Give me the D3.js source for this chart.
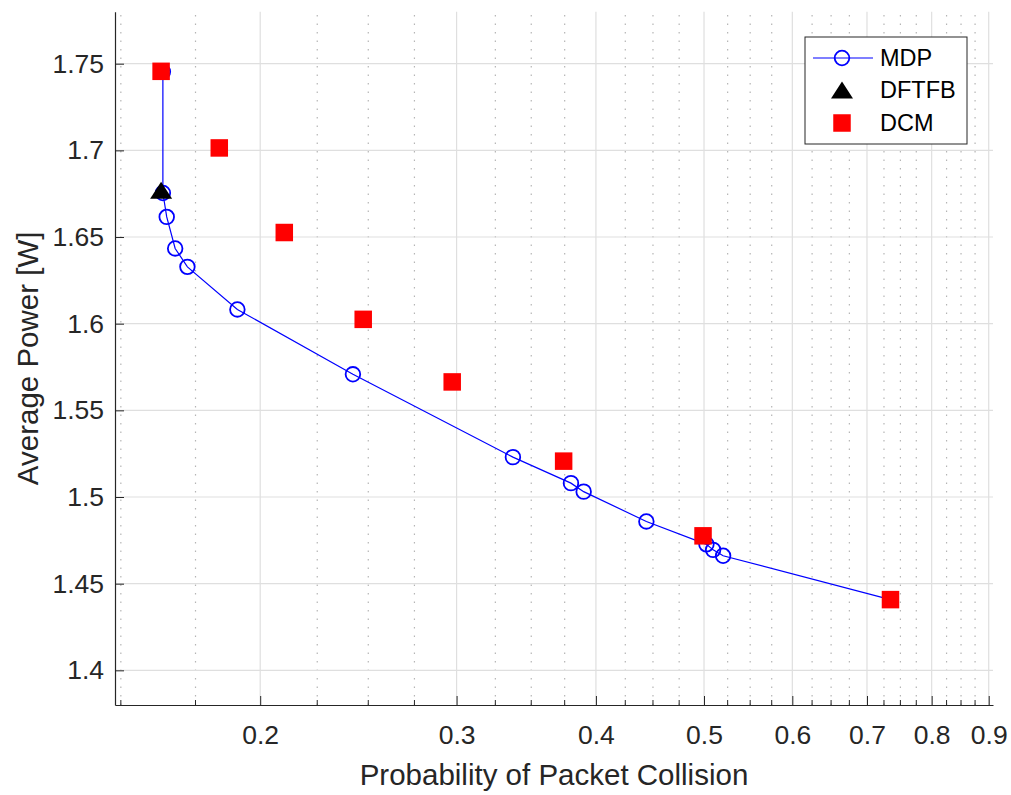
<!DOCTYPE html>
<html>
<head>
<meta charset="utf-8">
<script src="https://cdn.jsdelivr.net/npm/d3@7"></script>
<style>
  html, body { margin: 0; padding: 0; background: #fff; }
  svg { display: block; font-family: "Liberation Sans", Arial, Helvetica, sans-serif; }
</style>
</head>
<body>
<script>
// 数据
const mdpX = [0.1636, 0.1636, 0.1649, 0.1678, 0.1721, 0.1908, 0.2422, 0.3370, 0.3799, 0.3900, 0.4439, 0.5025, 0.5095, 0.5201, 0.7348];
const mdpY = [1.7453, 1.6754, 1.6616, 1.6434, 1.6328, 1.6082, 1.5708, 1.5230, 1.5080, 1.5031, 1.4859, 1.4727, 1.4695, 1.4661, 1.4408];
const dftfbX = [0.1630];
const dftfbY = [1.6770];
const dcmX = [0.1630, 0.1838, 0.2102, 0.2474, 0.2973, 0.3742, 0.4990, 0.7348];
const dcmY = [1.7456, 1.7014, 1.6526, 1.6025, 1.5664, 1.5207, 1.4776, 1.4408];

const xTicks = [0.2, 0.3, 0.4, 0.5, 0.6, 0.7, 0.8, 0.9];
const yTicks = [1.4, 1.45, 1.5, 1.55, 1.6, 1.65, 1.7, 1.75];
const legendNames = ['MDP', 'DFTFB', 'DCM'];

const width = 1011, height = 795;
const axisColor = '#262626';

// 画布
const svg = d3.select('body').append('svg')
    .attr('width', width)
    .attr('height', height);

// 比例尺
const x = d3.scaleLog().domain([0.1482, 0.908]).range([115, 993]);
const y = d3.scaleLinear().domain([1.38, 1.78]).range([705, 11.7]);

// 次刻度 (每 0.025)
const xMinor = d3.range(6, 37).map(i => i * 0.025)
    .filter(v => !xTicks.some(t => Math.abs(t - v) < 1e-6));

// 网格
const grid = svg.append('g');
grid.selectAll('.minor')
    .data(xMinor)
    .enter().append('line')
    .attr('x1', d => x(d)).attr('x2', d => x(d))
    .attr('y1', y.range()[0]).attr('y2', y.range()[1])
    .attr('stroke', '#b5b5b5')
    .attr('stroke-width', 1.2)
    .attr('stroke-dasharray', '1.5,7');
grid.selectAll('.xmajor')
    .data(xTicks)
    .enter().append('line')
    .attr('x1', d => x(d)).attr('x2', d => x(d))
    .attr('y1', y.range()[0]).attr('y2', y.range()[1])
    .attr('stroke', '#dfdfdf')
    .attr('stroke-width', 1.2);
grid.selectAll('.ymajor')
    .data(yTicks)
    .enter().append('line')
    .attr('x1', x.range()[0]).attr('x2', x.range()[1])
    .attr('y1', d => y(d)).attr('y2', d => y(d))
    .attr('stroke', '#dfdfdf')
    .attr('stroke-width', 1.2);

// 坐标轴
const xAxis = svg.append('g')
    .attr('transform', `translate(0,${y.range()[0]})`)
    .call(d3.axisBottom(x).tickValues(xTicks).tickFormat(d3.format('.1f')).tickSizeInner(-9).tickSizeOuter(0).tickPadding(20));
xAxis.append('g').selectAll('line')
    .data(xMinor)
    .enter().append('line')
    .attr('x1', d => x(d)).attr('x2', d => x(d))
    .attr('y1', 0).attr('y2', -5)
    .attr('stroke', axisColor);

const yAxis = svg.append('g')
    .attr('transform', `translate(${x.range()[0]},0)`)
    .call(d3.axisLeft(y).tickValues(yTicks).tickFormat(d => String(+d.toFixed(2))).tickSizeInner(-9).tickSizeOuter(0).tickPadding(11));

[xAxis, yAxis].forEach(a => {
    a.select('.domain').attr('stroke', axisColor).attr('stroke-width', 1.2);
    a.selectAll('.tick line').attr('stroke', axisColor);
    a.selectAll('text')
        .attr('fill', axisColor)
        .style('font-size', '26.5px');
});
xAxis.selectAll('.tick text').attr('dy', '0.71em');

// 轴标题
svg.append('text')
    .attr('x', (x.range()[0] + x.range()[1]) / 2)
    .attr('y', 785)
    .attr('text-anchor', 'middle')
    .attr('fill', axisColor)
    .style('font-size', '29.5px')
    .text('Probability of Packet Collision');
svg.append('text')
    .attr('transform', `translate(38,${(y.range()[0] + y.range()[1]) / 2}) rotate(-90)`)
    .attr('text-anchor', 'middle')
    .attr('fill', axisColor)
    .style('font-size', '29.5px')
    .text('Average Power [W]');

// 绘图区
const plot = svg.append('g');
const mdp = mdpX.map((v, i) => ({x: v, y: mdpY[i]}));
const dcm = dcmX.map((v, i) => ({x: v, y: dcmY[i]}));
const dftfb = dftfbX.map((v, i) => ({x: v, y: dftfbY[i]}));

plot.append('path')
    .datum(mdp)
    .attr('fill', 'none')
    .attr('stroke', '#0000ff')
    .attr('stroke-width', 1.2)
    .attr('d', d3.line().x(d => x(d.x)).y(d => y(d.y)));
plot.selectAll('.mdp')
    .data(mdp)
    .enter().append('circle')
    .attr('cx', d => x(d.x)).attr('cy', d => y(d.y))
    .attr('r', 7.3)
    .attr('fill', 'none')
    .attr('stroke', '#0000ff')
    .attr('stroke-width', 1.8);

const tri = (cx, cy) => `M${cx},${cy - 8.5}L${cx + 11},${cy + 8.5}L${cx - 11},${cy + 8.5}Z`;
plot.selectAll('.dftfb')
    .data(dftfb)
    .enter().append('path')
    .attr('d', d => tri(x(d.x), y(d.y)))
    .attr('fill', '#000');

const sq = 17.5;
plot.selectAll('.dcm')
    .data(dcm)
    .enter().append('rect')
    .attr('x', d => x(d.x) - sq / 2).attr('y', d => y(d.y) - sq / 2)
    .attr('width', sq).attr('height', sq)
    .attr('fill', '#ff0000');

// 图例
const legend = svg.append('g').attr('transform', 'translate(805,37)');
legend.append('rect')
    .attr('width', 162).attr('height', 107)
    .attr('fill', '#fff')
    .attr('stroke', axisColor)
    .attr('stroke-width', 1);
const rowY = [21, 53, 86];
legend.append('line')
    .attr('x1', 8).attr('x2', 68)
    .attr('y1', rowY[0]).attr('y2', rowY[0])
    .attr('stroke', '#0000ff').attr('stroke-width', 1.2);
legend.append('circle')
    .attr('cx', 37).attr('cy', rowY[0]).attr('r', 7.3)
    .attr('fill', 'none').attr('stroke', '#0000ff').attr('stroke-width', 1.8);
legend.append('path').attr('d', tri(37, rowY[1])).attr('fill', '#000');
legend.append('rect')
    .attr('x', 37 - sq / 2).attr('y', rowY[2] - sq / 2)
    .attr('width', sq).attr('height', sq)
    .attr('fill', '#ff0000');
legend.selectAll('.ltext')
    .data(legendNames)
    .enter().append('text')
    .attr('x', 75)
    .attr('y', (d, i) => rowY[i])
    .attr('dy', '0.36em')
    .attr('fill', '#000')
    .style('font-size', '23.5px')
    .text(d => d);
</script>
</body>
</html>
